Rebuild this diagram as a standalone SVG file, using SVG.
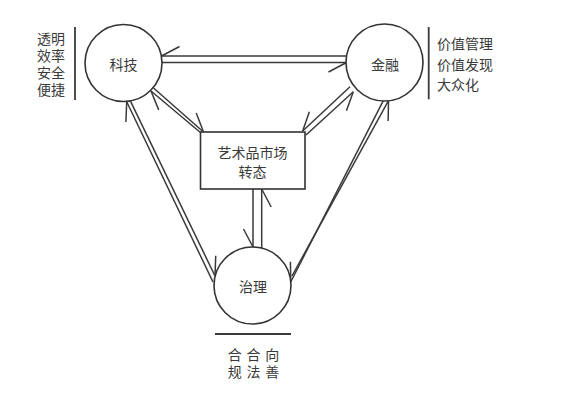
<svg xmlns="http://www.w3.org/2000/svg" width="572" height="409" viewBox="0 0 572 409">
<style>
.bg{fill:#ffffff}
.node{fill:#ffffff;stroke:#333333;stroke-width:1.6}
.conn{fill:none;stroke:#3a3a3a;stroke-width:1.5}
.rule{fill:none;stroke:#3a3a3a;stroke-width:1.8}
text{font-family:"Noto Sans CJK SC","Noto Sans",sans-serif;font-size:14px;fill:#3a3a3a}
.c{text-anchor:middle}
</style>
<defs>
<marker id="barbP" markerUnits="userSpaceOnUse" orient="auto" refX="0" refY="0" markerWidth="40" markerHeight="40" style="overflow:visible">
<path d="M0,0 L-18,9.5" fill="none" stroke="#3a3a3a" stroke-width="1.5"/>
</marker>
<marker id="barbN" markerUnits="userSpaceOnUse" orient="auto" refX="0" refY="0" markerWidth="40" markerHeight="40" style="overflow:visible">
<path d="M0,0 L-18,-9.5" fill="none" stroke="#3a3a3a" stroke-width="1.5"/>
</marker>
</defs>
<rect class="bg" x="0" y="0" width="572" height="409"/>

<g id="connectors">
<line class="conn" x1="346.5" y1="56" x2="161.5" y2="56" marker-end="url(#barbP)"/>
<line class="conn" x1="162" y1="62.5" x2="346.5" y2="62.5" marker-end="url(#barbP)"/>
<line class="conn" x1="201" y1="133" x2="151" y2="91" marker-end="url(#barbN)"/>
<line class="conn" x1="153.5" y1="88" x2="203.5" y2="132" marker-end="url(#barbN)"/>
<line class="conn" x1="350" y1="86.7" x2="302.7" y2="131" marker-end="url(#barbP)"/>
<line class="conn" x1="306" y1="135" x2="353.3" y2="91.7" marker-end="url(#barbP)"/>
<line class="conn" x1="383.3" y1="100.7" x2="290.7" y2="282" marker-end="url(#barbP)"/>
<line class="conn" x1="292" y1="276" x2="388.5" y2="100.7" marker-end="url(#barbP)"/>
<line class="conn" x1="213" y1="282" x2="126.7" y2="101.7" marker-end="url(#barbN)"/>
<line class="conn" x1="130.7" y1="101.7" x2="215" y2="276" marker-end="url(#barbN)"/>
<line class="conn" x1="253" y1="189" x2="253" y2="247" marker-end="url(#barbP)"/>
<line class="conn" x1="261.7" y1="248" x2="261.7" y2="189" marker-end="url(#barbP)"/>
</g>

<g id="node-keji">
<circle class="node" cx="123.5" cy="63" r="38.5"/>
<text class="c" x="123.5" y="70">科技</text>
</g>
<g id="node-jinrong">
<circle class="node" cx="384.5" cy="62.5" r="38.5"/>
<text class="c" x="385" y="70">金融</text>
</g>
<g id="node-zhili">
<circle class="node" cx="252.5" cy="285.5" r="38.5"/>
<text class="c" x="253" y="292">治理</text>
</g>
<g id="node-market">
<rect class="node" x="200.5" y="132" width="104.5" height="57"/>
<text class="c" x="252.5" y="158">艺术品市场</text>
<text class="c" x="252.5" y="177">转态</text>
</g>

<g id="note-keji">
<line class="rule" x1="75" y1="27" x2="75" y2="100"/>
<text class="c" x="51" y="44">透明</text>
<text class="c" x="51" y="61">效率</text>
<text class="c" x="51" y="78">安全</text>
<text class="c" x="51" y="94.5">便捷</text>
</g>
<g id="note-jinrong">
<line class="rule" x1="428.7" y1="27" x2="428.7" y2="99.3"/>
<text x="437" y="48.5">价值管理</text>
<text x="437" y="69.5">价值发现</text>
<text x="437" y="90">大众化</text>
</g>
<g id="note-zhili">
<line class="rule" x1="215" y1="334" x2="291" y2="334"/>
<text class="c" x="253.5" y="360" style="word-spacing:1.5px">合 合 向</text>
<text class="c" x="253.5" y="377" style="word-spacing:1.5px">规 法 善</text>
</g>
</svg>
